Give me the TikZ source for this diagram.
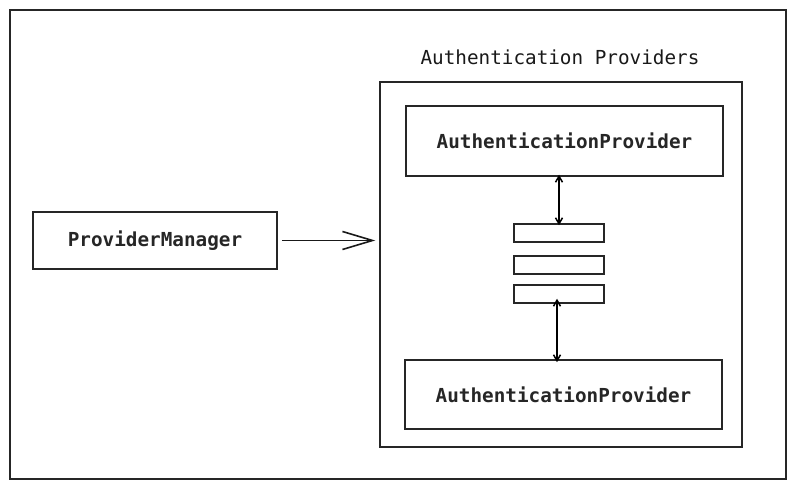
\documentclass[tikz,border=0pt]{standalone}
\usepackage{fontspec}
\setmonofont{DejaVu Sans Mono}
\usetikzlibrary{arrows.meta}
\begin{document}
\begin{tikzpicture}[x=1pt,y=-1pt,
  box/.style={draw=black!85, line width=1.5pt, fill=white, inner sep=0pt},
  lbl/.style={font=\ttfamily\fontsize{19.3}{22}\selectfont, text=black!90},
  blbl/.style={font=\ttfamily\bfseries\fontsize{19.3}{22}\selectfont, text=black!85},
  dbl/.style={line width=1.5pt, {Straight Barb[length=6pt,width=7pt]}-{Straight Barb[length=6pt,width=7pt]}}]
\useasboundingbox (0,0) rectangle (796,489);
\draw[line width=1.3pt, black!85] (10,10) rectangle (786,479);
% providers container
\node[box, minimum width=362pt, minimum height=365pt] (prov) at (561,264.5) {};
\node[lbl] (title) at (560,57) {Authentication Providers};
% provider boxes
\node[box, minimum width=317pt, minimum height=70pt, blbl] (ap1) at (564.5,141) {AuthenticationProvider};
\node[box, minimum width=317pt, minimum height=69pt, blbl] (ap2) at (563.5,394.5) {AuthenticationProvider};
% bars
\node[box, minimum width=90pt, minimum height=18pt] (b1) at (559,233) {};
\node[box, minimum width=90pt, minimum height=18pt] (b2) at (559,265) {};
\node[box, minimum width=90pt, minimum height=18pt] (b3) at (559,294) {};
% manager
\node[box, minimum width=244pt, minimum height=57pt, blbl] (pm) at (155,240.5) {ProviderManager};
% connectors
\draw[line width=1.6pt, black!90, -{Straight Barb[length=30pt,width=18pt]}] ([xshift=4pt]pm.east) -- ([xshift=-4pt]pm.east -| prov.west);
\draw[dbl] ([yshift=2pt]ap1.south -| b1.north) -- ([yshift=-2pt]b1.north);
\draw[dbl] ([yshift=5pt]b3.south) ++(-2pt,0) coordinate (c1) -- ([yshift=-3pt]ap2.north -| c1);
\end{tikzpicture}
\end{document}
